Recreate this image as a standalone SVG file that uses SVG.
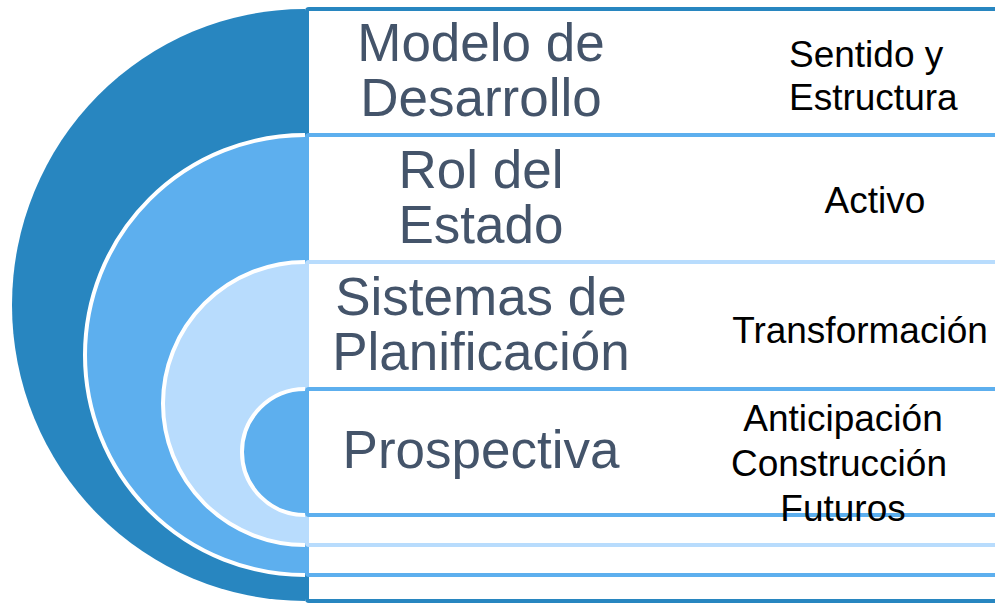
<svg xmlns="http://www.w3.org/2000/svg" width="995" height="603" viewBox="0 0 995 603">
<style>
.arc{stroke:#FFFFFF;stroke-width:4}
.box{fill:#FFFFFF;stroke-width:4}
.dk{fill:#2886C0}
.md{fill:#5DAFEE}
.lt{fill:#B8DCFD}
.sdk{stroke:#2886C0}
.smd{stroke:#5DAFEE}
.slt{stroke:#B8DCFD}
.main{font-family:"Liberation Sans",Arial,sans-serif;font-size:53px;fill:#44546A;text-anchor:middle}
.sub{font-family:"Liberation Sans",Arial,sans-serif;font-size:37px;fill:#000000}
</style>
<rect width="995" height="603" fill="#FFFFFF"/>
<g id="level1">
<path class="dk" d="M305,9 A293,296 0 0 0 305,601 Z"/>
<rect class="box sdk" x="307" y="9" width="720" height="592" rx="2"/>
<text class="main" x="481" y="61">Modelo de</text>
<text class="main" x="481" y="116">Desarrollo</text>
<text class="sub" x="789" y="67">Sentido y</text>
<text class="sub" x="789" y="110">Estructura</text>
</g>
<g id="level2">
<path class="md arc" d="M305,135 A220,220 0 0 0 305,575"/>
<rect class="box smd" x="307" y="135" width="720" height="440" rx="2"/>
<text class="main" x="481" y="188">Rol del</text>
<text class="main" x="481" y="243">Estado</text>
<text class="sub" x="875" y="213" text-anchor="middle">Activo</text>
</g>
<g id="level3">
<path class="lt arc" d="M305,262 A142,141.5 0 0 0 305,545"/>
<rect class="box slt" x="307" y="262" width="720" height="283" rx="2"/>
<text class="main" x="481" y="315">Sistemas de</text>
<text class="main" x="481" y="370">Planificación</text>
<text class="sub" x="860" y="343" text-anchor="middle">Transformación</text>
</g>
<g id="level4">
<path class="md arc" d="M305,389 A63,63 0 0 0 305,515"/>
<rect class="box smd" x="307" y="389" width="720" height="126" rx="2"/>
<text class="main" x="481" y="468">Prospectiva</text>
<text class="sub" x="843" y="431" text-anchor="middle">Anticipación</text>
<text class="sub" x="839" y="476" text-anchor="middle">Construcción</text>
<text class="sub" x="843" y="521" text-anchor="middle">Futuros</text>
</g>
<g id="connectors"/>
</svg>
